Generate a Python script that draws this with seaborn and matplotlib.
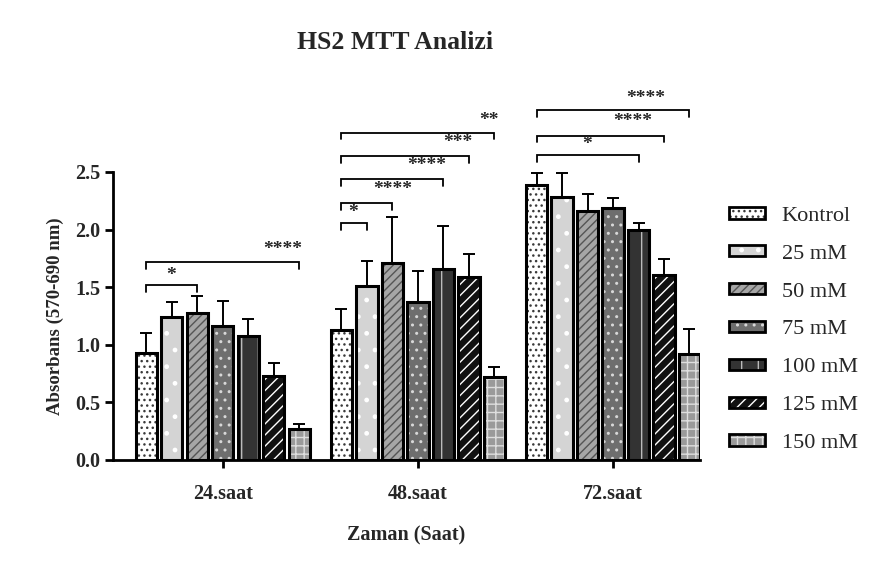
import numpy as np
import matplotlib.pyplot as plt
import pandas as pd
import seaborn as sns
from matplotlib.patches import Patch, Rectangle

times = ['24.saat', '48.saat', '72.saat']
doses = ['Kontrol', '25 mM', '50 mM', '75 mM', '100 mM', '125 mM', '150 mM']

mean_24 = [0.93, 1.24, 1.28, 1.16, 1.08, 0.73, 0.27]
mean_48 = [1.13, 1.51, 1.71, 1.37, 1.66, 1.59, 0.72]
mean_72 = [2.39, 2.28, 2.16, 2.19, 2.00, 1.61, 0.92]
err_24 = [0.17, 0.135, 0.145, 0.22, 0.14, 0.115, 0.045]
err_48 = [0.18, 0.22, 0.40, 0.27, 0.375, 0.20, 0.09]
err_72 = [0.105, 0.21, 0.15, 0.085, 0.055, 0.135, 0.215]

# (time index, dose a, dose b, bracket height)
brackets = [(0, 0, 2, 1.517), (0, 0, 6, 1.717),
            (1, 0, 1, 2.058), (1, 0, 2, 2.232), (1, 0, 4, 2.441), (1, 0, 5, 2.642), (1, 0, 6, 2.842),
            (2, 0, 4, 2.65), (2, 0, 5, 2.816), (2, 0, 6, 3.034)]
# (x, y, text) for the significance stars
stars = [(-0.267, 1.648, '*'), (0.308, 1.874, '****'),
         (0.667, 2.197, '*'), (0.872, 2.389, '****'), (1.046, 2.598, '****'),
         (1.205, 2.799, '***'), (1.364, 2.99, '**'),
         (1.867, 2.781, '*'), (2.103, 2.982, '****'), (2.169, 3.182, '****')]

faces = ['white', '#d4d4d4', '#a6a6a6', '#6e6e6e', '#333333', '#111111', '#9a9a9a']
hatches = ['...', '.', '////', '..', '|', '///', '++']
hcolors = ['#3a3a3a', 'white', '#555555', '#d8d8d8', '#bbbbbb', 'white', '#dedede']

rows = []
for t, m in zip(times, [mean_24, mean_48, mean_72]):
    for d, v in zip(doses, m):
        rows.append({'Zaman': t, 'Doz': d, 'Absorbans': v})
df = pd.DataFrame(rows)

sns.set_style('ticks')
plt.rcParams['font.family'] = ['Liberation Serif', 'DejaVu Serif']
plt.rcParams['hatch.linewidth'] = 1.0

fig = plt.figure(figsize=(8.75, 5.62), dpi=100)
ax = fig.add_axes([0.129, 0.1815, 0.671, 0.5125])

sns.barplot(data=df, x='Zaman', y='Absorbans', hue='Doz', order=times, hue_order=doses,
            errorbar=None, width=0.915, gap=0.17, palette=faces, legend=False, ax=ax)

errs = [err_24, err_48, err_72]
bar_conts = list(ax.containers)
centers = np.zeros((len(doses), len(times)))
for i, cont in enumerate(bar_conts):
    xs, ys, es = [], [], []
    for j, bar in enumerate(cont):
        x = bar.get_x() + bar.get_width() / 2
        centers[i, j] = x
        xs.append(x)
        ys.append(bar.get_height())
        es.append(errs[j][i])
        bar.set_hatch(hatches[i])
        bar.set_edgecolor(hcolors[i])
        bar.set_linewidth(0)
        ax.add_patch(Rectangle(bar.get_xy(), bar.get_width(), bar.get_height(), fill=False,
                               edgecolor='black', lw=2.2, zorder=3))
    ax.errorbar(xs, ys, yerr=[np.zeros(len(es)), es], fmt='none', ecolor='black',
                elinewidth=1.4, capsize=4.5, capthick=1.4, zorder=1)

tick = 0.06
for g, a, b, h in brackets:
    xa, xb = centers[a, g], centers[b, g]
    ax.plot([xa, xa, xb, xb], [h - tick, h, h, h - tick], color='black', lw=1.3,
            clip_on=False, solid_joinstyle='miter')
fs = 14
for x, y, s in stars:
    ax.annotate(s, (x, y), xytext=(0, -0.5 * fs), textcoords='offset points',
                ha='center', va='baseline', fontsize=fs, fontweight='bold',
                annotation_clip=False)

ax.set_xlim(-0.564, 2.446)
ax.set_ylim(0, 2.5)
ax.set_yticks([0, 0.5, 1.0, 1.5, 2.0, 2.5])
ax.set_yticklabels(['0.0', '0.5', '1.0', '1.5', '2.0', '2.5'])
for lab in ax.get_xticklabels() + ax.get_yticklabels():
    lab.set_fontweight('bold')
    lab.set_fontsize(14.5)
ax.tick_params(axis='both', width=2, length=6, color='black', pad=3)
ax.tick_params(axis='x', pad=11.5)
sns.despine(ax=ax)
for sp in ['left', 'bottom']:
    ax.spines[sp].set_linewidth(2)
    ax.spines[sp].set_color('black')
ax.set_xlabel('Zaman (Saat)', fontsize=14.5, fontweight='bold', labelpad=15)
ax.set_ylabel('Absorbans (570-690 nm)', fontsize=13.5, fontweight='bold', labelpad=8)
fig.text(0.451, 0.925, 'HS2 MTT Analizi', ha='center', va='center', fontsize=18.5, fontweight='bold')

handles = []
for i in range(len(doses)):
    handles.append((Patch(facecolor=faces[i], hatch=hatches[i], edgecolor=hcolors[i], lw=0),
                    Patch(fill=False, edgecolor='black', lw=2)))
leg = ax.legend(handles, doses, loc='upper left', bbox_to_anchor=(1.035, 0.91), frameon=False,
                fontsize=16, handlelength=1.6, handleheight=0.42, handletextpad=0.75,
                labelspacing=0.85, borderaxespad=0)

fig.savefig('out.png', dpi=100)
